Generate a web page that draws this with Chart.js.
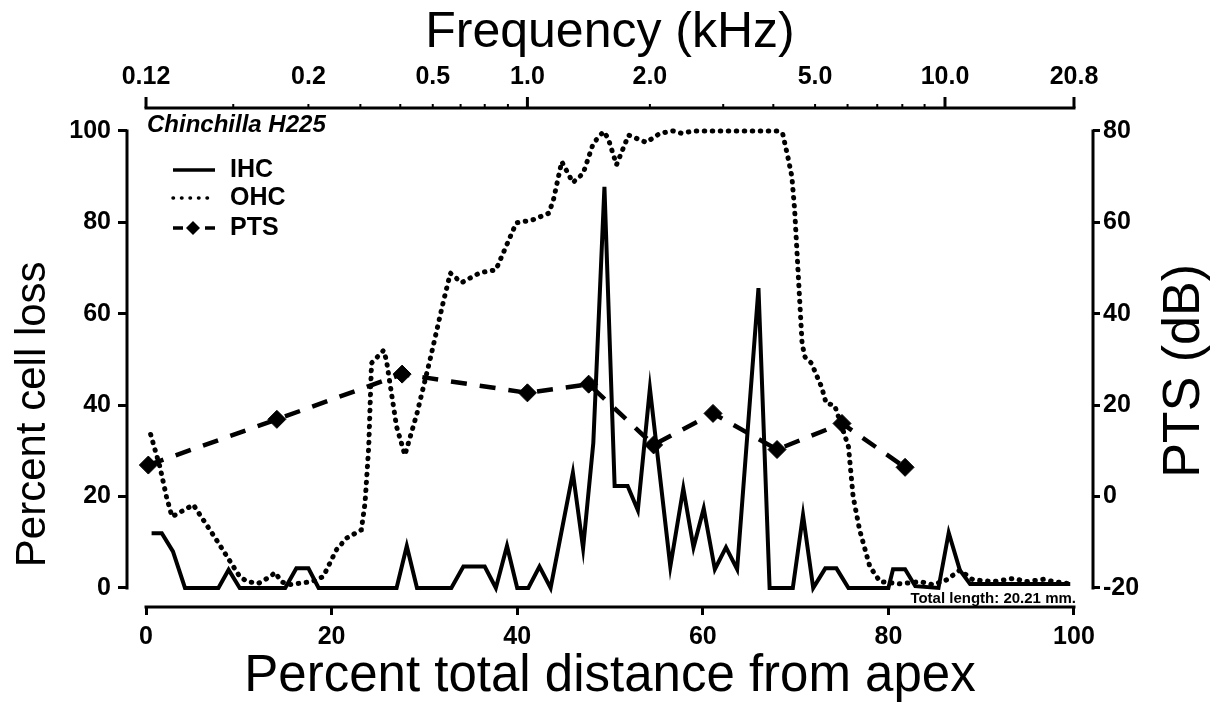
<!DOCTYPE html>
<html>
<head>
<meta charset="utf-8">
<title>Chinchilla H225 - cell loss and PTS</title>
<script src="https://cdn.jsdelivr.net/npm/chart.js@4.4.0/dist/chart.umd.min.js"></script>
<style>
    html, body { margin: 0; padding: 0; background: #fff; }
    #wrap { width: 1217px; height: 713px; }
</style>
</head>
<body>
<div id="wrap"><canvas id="lossChart" width="1217" height="713"></canvas></div>
<script>
// values, x = percent total distance from apex
const ihcDist = [0.6, 1.7, 2.9, 4.2, 7.8, 8.9, 10.1, 15.0, 16.2, 17.5, 18.6, 27.0, 28.1, 29.2, 32.9,
    34.2, 36.5, 37.7, 38.9, 40.0, 41.2, 42.4, 43.6, 46.0, 47.1, 48.2, 49.4, 50.5, 51.9, 53.0,
    54.3, 56.5, 57.9, 59.0, 60.1, 61.3, 62.5, 63.7, 66.0, 67.2, 69.7, 70.8, 71.9, 73.2, 74.4,
    75.7, 80.0, 80.5, 81.8, 82.9, 85.4, 86.5, 87.7, 88.8, 99.6];
const ihcLoss = [12, 12, 8, 0, 0, 4, 0, 0, 4.3, 4.3, 0, 0, 9.2, 0, 0,
    4.7, 4.7, 0, 9.2, 0, 0, 4.7, 0, 25.2, 8.7, 31.7, 87.8, 22.3, 22.3, 17,
    43.7, 4.7, 21.8, 8.9, 17.4, 4.1, 8.9, 4.1, 65.6, 0, 0, 16, 0, 4.3, 4.3,
    0, 0, 4.1, 4.1, 0.4, 0, 12.1, 3.9, 0.9, 0.9];

const ohcDist = [0.5, 1.5, 2.2, 2.8, 5.1, 7.6, 10.1, 10.9, 12.1, 13.4, 13.9, 14.6, 15.3, 17.9, 19.1,
    20.5, 21.6, 23.2, 23.6, 24.0, 24.3, 25.6, 25.9, 27.0, 27.9, 29.2, 30.6, 32.0, 32.8, 34.0,
    36.0, 37.7, 39.9, 41.6, 43.4, 43.9, 44.8, 46.0, 47.1, 48.2, 49.3, 49.8, 50.7, 52.0, 53.9,
    55.4, 56.8, 57.7, 59.0, 68.0, 68.6, 69.2, 69.6, 69.9, 70.3, 70.7, 71.0, 71.7, 72.8, 73.3,
    74.2, 75.1, 75.7, 76.2, 76.9, 78.0, 79.1, 81.3, 83.4, 84.8, 86.3, 87.7, 89.1, 91.3, 93.5,
    94.9, 96.7, 97.8, 99.6];
const ohcLoss = [33.6, 26.5, 20.0, 15.6, 18.2, 10.5, 2.5, 1.4, 1.0, 2.5, 3.4, 1.4, 0.7, 1.4, 2.5,
    8.3, 10.9, 12.7, 18.6, 30.9, 49.2, 52.0, 49.9, 35.3, 29.1, 38.2, 49.9, 62.3, 68.9, 66.8,
    69.0, 69.6, 79.9, 80.5, 82.0, 84.9, 93.3, 88.7, 90.7, 97.3, 99.9, 98.4, 92.6, 99.1, 97.5,
    99.5, 100, 99.5, 100, 100, 99.5, 94.0, 90.0, 82.7, 68.1, 53.5, 50.6, 49.2, 44.0, 40.4,
    40.0, 34.6, 30.9, 20.0, 12.7, 4.7, 1.4, 0.9, 1.4, 0.7, 1.8, 3.9, 1.8, 1.4, 2.1,
    1.4, 1.9, 1.4, 0.9];

const ptsDist = [0.25, 14.1, 27.6, 41.1, 47.7, 54.7, 61.1, 68.0, 75.0, 81.8];
const ptsDb = [6.9, 16.9, 26.8, 22.7, 24.6, 11.3, 18.2, 10.3, 16.0, 6.4];

const distTicks = [0, 20, 40, 60, 80, 100];
const lossTicks = [0, 20, 40, 60, 80, 100];
const ptsTicks = [-20, 0, 20, 40, 60, 80];

// frequency axis along the top: mark positions (percent distance) and their labels
const freqTickPos = [0, 9.4, 17.5, 23.1, 27.4, 30.9, 33.9, 36.5, 39.0, 41.1,
    54.3, 62.2, 67.6, 72.1, 75.6, 78.8, 81.5, 83.9, 86.1, 100];
const freqTickLabels = ['0.12', '', '0.2', '', '', '0.5', '', '', '', '1.0',
    '2.0', '', '', '5.0', '', '', '', '', '10.0', '20.8'];
const freqLongTicks = ['0.12', '1.0', '10.0', '20.8'];

const FONT = "'Liberation Sans', Arial, Helvetica, sans-serif";
Chart.defaults.font.family = FONT;
Chart.defaults.color = '#000';

function pairs(xs, ys) {
    return xs.map((x, i) => ({ x: x, y: ys[i] }));
}

function fixTicks(values) {
    return function (scale) {
        scale.ticks = values.map(v => ({ value: v }));
    };
}

const tickFont = { family: FONT, size: 25, weight: 'bold' };
const axisGrid = (len) => ({
    drawOnChartArea: false,
    drawTicks: true,
    tickLength: len,
    color: '#000',
    lineWidth: 3,
});

// axis lines, top frequency marks, titles, legend and notes
const framePlugin = {
    id: 'frame',
    afterDraw(chart) {
        const ctx = chart.ctx;
        const area = chart.chartArea;
        const x = chart.scales.x, xt = chart.scales.xTop;
        const y = chart.scales.y, y2 = chart.scales.y2;

        ctx.save();
        ctx.strokeStyle = '#000';
        ctx.fillStyle = '#000';
        ctx.lineWidth = 3;
        ctx.lineCap = 'square';
        ctx.setLineDash([]);

        ctx.beginPath();
        ctx.moveTo(x.getPixelForValue(0), area.bottom);
        ctx.lineTo(x.getPixelForValue(100), area.bottom);
        ctx.moveTo(area.left, y.getPixelForValue(0));
        ctx.lineTo(area.left, y.getPixelForValue(100));
        ctx.moveTo(area.right, y2.getPixelForValue(-20));
        ctx.lineTo(area.right, y2.getPixelForValue(80));
        ctx.moveTo(xt.getPixelForValue(0), area.top);
        ctx.lineTo(xt.getPixelForValue(100), area.top);
        ctx.stroke();

        ctx.lineCap = 'butt';
        freqTickPos.forEach((p, i) => {
            const px = xt.getPixelForValue(p);
            const isLong = freqLongTicks.includes(freqTickLabels[i]);
            ctx.lineWidth = isLong ? 3 : 2;
            ctx.beginPath();
            ctx.moveTo(px, area.top);
            ctx.lineTo(px, area.top - (isLong ? 11 : 4));
            ctx.stroke();
        });

        // y titles
        ctx.textAlign = 'center';
        ctx.textBaseline = 'middle';
        ctx.font = '42px ' + FONT;
        ctx.save();
        ctx.translate(33, y.getPixelForValue(38));
        ctx.rotate(-Math.PI / 2);
        ctx.fillText('Percent cell loss', 0, 0);
        ctx.restore();
        ctx.font = '52px ' + FONT;
        ctx.save();
        ctx.translate(1185, y2.getPixelForValue(27.5));
        ctx.rotate(-Math.PI / 2);
        ctx.fillText('PTS (dB)', 0, 0);
        ctx.restore();

        // subject label
        ctx.font = 'italic bold 24px ' + FONT;
        ctx.textAlign = 'left';
        ctx.fillText('Chinchilla H225', x.getPixelForValue(0) + 1, area.top + 17);

        // legend
        const rows = [area.top + 62, area.top + 90, area.top + 120];
        const sx0 = area.left + 46, sx1 = area.left + 88;
        chart.data.datasets.forEach((ds, i) => {
            const ry = rows[i];
            ctx.lineWidth = 3.5;
            ctx.setLineDash(ds.legendDash || []);
            ctx.lineCap = ds.borderCapStyle || 'butt';
            ctx.beginPath();
            ctx.moveTo(sx0, ry);
            ctx.lineTo(sx1, ry);
            ctx.stroke();
            ctx.setLineDash([]);
            if (ds.pointRadius) {
                const cx = sx0 + 20, r = 7;
                ctx.beginPath();
                ctx.moveTo(cx - r, ry);
                ctx.lineTo(cx, ry - r);
                ctx.lineTo(cx + r, ry);
                ctx.lineTo(cx, ry + r);
                ctx.closePath();
                ctx.fill();
            }
            ctx.font = 'bold 25px ' + FONT;
            ctx.textAlign = 'left';
            ctx.fillText(ds.label, area.left + 103, ry);
        });

        // cochlea length note
        ctx.font = 'bold 15px ' + FONT;
        ctx.textAlign = 'right';
        ctx.textBaseline = 'alphabetic';
        ctx.fillText('Total length: 20.21 mm.', x.getPixelForValue(100) + 2, area.bottom - 4);
        ctx.restore();
    }
};

new Chart(document.getElementById('lossChart').getContext('2d'), {
    type: 'line',
    data: {
        datasets: [
            {
                label: 'IHC',
                data: pairs(ihcDist, ihcLoss),
                yAxisID: 'y',
                borderColor: '#000',
                borderWidth: 4,
                pointRadius: 0,
                tension: 0,
                borderJoinStyle: 'miter',
            },
            {
                label: 'OHC',
                data: pairs(ohcDist, ohcLoss),
                yAxisID: 'y',
                borderColor: '#000',
                borderWidth: 5,
                borderDash: [0.5, 7.5],
                borderCapStyle: 'round',
                legendDash: [0.5, 8],
                pointRadius: 0,
                tension: 0,
            },
            {
                label: 'PTS',
                data: pairs(ptsDist, ptsDb),
                yAxisID: 'y2',
                borderColor: '#000',
                borderWidth: 4.5,
                borderDash: [16, 13],
                legendDash: [10, 22],
                pointStyle: 'rectRot',
                pointRadius: 9,
                pointBackgroundColor: '#000',
                pointBorderColor: '#000',
                pointBorderWidth: 1,
                tension: 0,
            },
        ],
    },
    options: {
        responsive: false,
        animation: false,
        layout: { padding: 0 },
        plugins: {
            legend: { display: false },
            tooltip: { enabled: false },
        },
        scales: {
            x: {
                type: 'linear',
                position: 'bottom',
                min: -2.05,
                max: 102.05,
                afterBuildTicks: fixTicks(distTicks),
                afterFit: s => { s.height = 106; },
                ticks: { font: tickFont, padding: 7, maxRotation: 0, autoSkip: false },
                grid: axisGrid(8),
                border: { display: false },
                title: {
                    display: true,
                    text: 'Percent total distance from apex',
                    font: { family: FONT, size: 51 },
                    padding: { top: 0, bottom: 5 },
                },
            },
            xTop: {
                type: 'linear',
                position: 'top',
                min: -2.05,
                max: 102.05,
                afterBuildTicks: fixTicks(freqTickPos),
                afterFit: s => { s.height = 108; },
                ticks: {
                    font: tickFont,
                    padding: 16,
                    maxRotation: 0,
                    autoSkip: false,
                    callback: (v, i) => freqTickLabels[i],
                },
                grid: { display: false, drawTicks: false },
                border: { display: false },
                title: {
                    display: true,
                    text: 'Frequency (kHz)',
                    font: { family: FONT, size: 50 },
                    padding: { top: 3, bottom: 0 },
                },
            },
            y: {
                type: 'linear',
                position: 'left',
                min: -4.16,
                max: 105.03,
                afterBuildTicks: fixTicks(lossTicks),
                afterFit: s => { s.width = 127; },
                ticks: { font: tickFont, padding: 7 },
                grid: axisGrid(9),
                border: { display: false },
            },
            y2: {
                type: 'linear',
                position: 'right',
                min: -24.16,
                max: 85.03,
                afterBuildTicks: fixTicks(ptsTicks),
                afterFit: s => { s.width = 124; },
                ticks: { font: tickFont, padding: 3 },
                grid: axisGrid(7),
                border: { display: false },
            },
        },
    },
    plugins: [framePlugin],
});
</script>
</body>
</html>
